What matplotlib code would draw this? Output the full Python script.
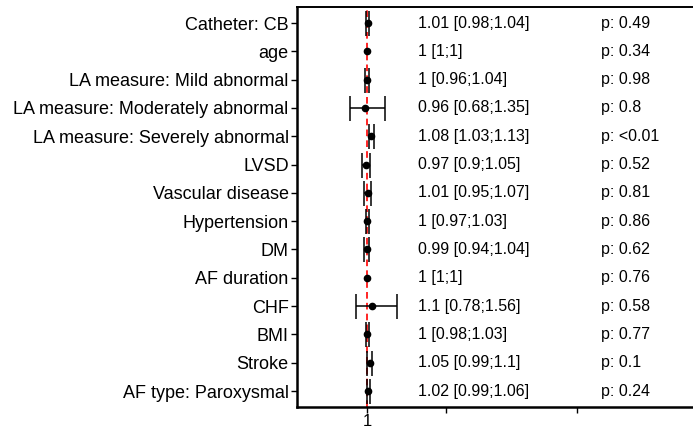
import matplotlib.pyplot as plt
import numpy as np

plt.rcParams['font.family'] = ['Liberation Sans', 'DejaVu Sans']

# hazard ratios with 95% CI and p-values, one row per covariate (top to bottom)
labels = ['Catheter: CB', 'age', 'LA measure: Mild abnormal',
          'LA measure: Moderately abnormal', 'LA measure: Severely abnormal',
          'LVSD', 'Vascular disease', 'Hypertension', 'DM', 'AF duration',
          'CHF', 'BMI', 'Stroke', 'AF type: Paroxysmal']
est = np.array([1.01, 1, 1, 0.96, 1.08, 0.97, 1.01, 1, 0.99, 1, 1.1, 1, 1.05, 1.02])
lo = np.array([0.98, 1, 0.96, 0.68, 1.03, 0.9, 0.95, 0.97, 0.94, 1, 0.78, 0.98, 0.99, 0.99])
hi = np.array([1.04, 1, 1.04, 1.35, 1.13, 1.05, 1.07, 1.03, 1.04, 1, 1.56, 1.03, 1.1, 1.06])
pvals = ['0.49', '0.34', '0.98', '0.8', '<0.01', '0.52', '0.81', '0.86', '0.62',
         '0.76', '0.58', '0.77', '0.1', '0.24']

n = len(labels)
ypos = np.arange(n, 0, -1)

fig = plt.figure(figsize=(6.93, 4.28), dpi=100)
ax = fig.add_axes([0.4286, 0.049, 0.58, 0.9346])

# reference line at HR = 1
ax.axvline(1, color='red', linestyle=(0, (4, 2.5)), lw=1.2, zorder=1)

# CI bars (skip the degenerate ones, they collapse onto the point)
has_ci = hi > lo
ax.errorbar(est[has_ci], ypos[has_ci],
            xerr=[est[has_ci] - lo[has_ci], hi[has_ci] - est[has_ci]],
            fmt='none', ecolor='black', elinewidth=1.1, capsize=9,
            capthick=1.1, zorder=2)
ax.plot(est, ypos, 'o', color='black', markersize=4.5, zorder=3)

for y, e, l, h, p in zip(ypos, est, lo, hi, pvals):
    ax.text(1.97, y, f'{e:g} [{l:g};{h:g}]', va='center', ha='left', fontsize=11.5)
    ax.text(5.45, y, f'p: {p}', va='center', ha='left', fontsize=11.5)

ax.set_yticks(ypos)
ax.set_yticklabels(labels, fontsize=13)
ax.set_xticks([1, 2.5, 5])
ax.set_xticklabels(['1', '', ''], fontsize=12)
ax.set_xlim(-0.335, 7.32)
ax.set_ylim(0.435, n + 0.565)

ax.spines['right'].set_visible(False)
for s in ['left', 'bottom']:
    ax.spines[s].set_linewidth(1.8)
ax.spines['top'].set_linewidth(1.4)
ax.tick_params(axis='both', length=4, width=1, pad=2)
ax.tick_params(axis='x', pad=1)

fig.savefig('out.png', dpi=100)
